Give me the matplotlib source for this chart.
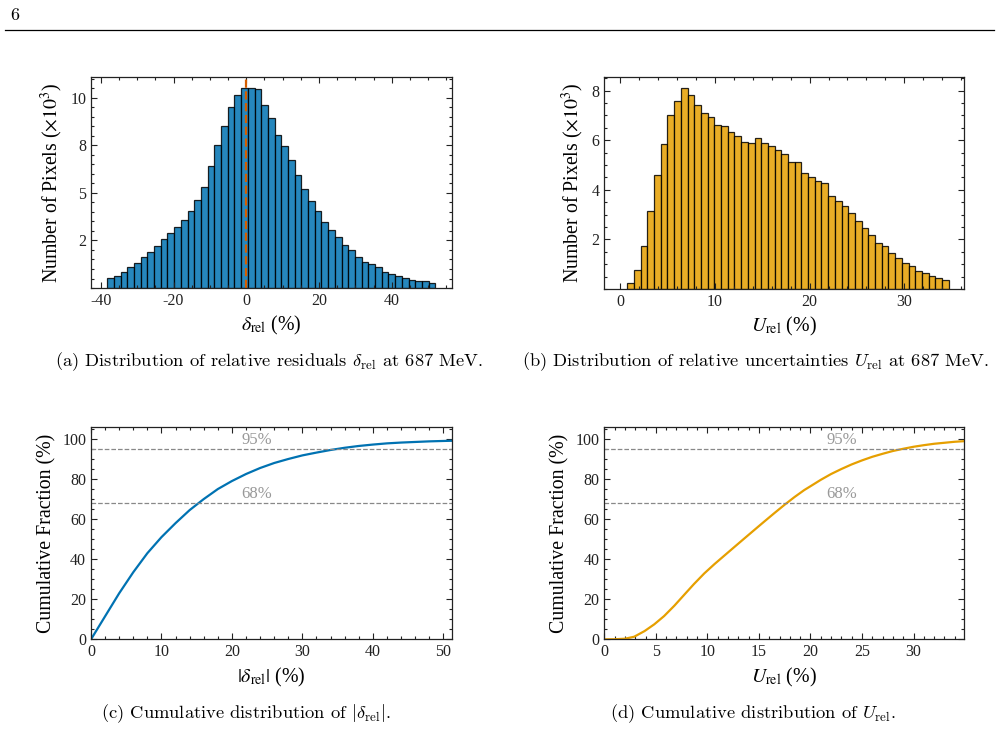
import numpy as np
import matplotlib
matplotlib.use("Agg")
import matplotlib.pyplot as plt
from matplotlib.ticker import MultipleLocator, FormatStrFormatter

plt.rcParams["font.family"] = ["Liberation Serif", "DejaVu Serif"]
plt.rcParams["mathtext.fontset"] = "stix"
plt.rcParams["axes.unicode_minus"] = False
plt.rcParams["axes.linewidth"] = 0.9
plt.rcParams["axes.edgecolor"] = "#222222"

# (a) histogram of relative residuals, counts in thousands
delta_range = (-38.25, 52.0)
delta_counts = [0.52, 0.61, 0.82, 1.10, 1.31, 1.63, 1.89, 2.22, 2.57, 2.88,
                3.22, 3.57, 4.06, 4.62, 5.28, 6.43, 7.52, 8.50, 9.53, 10.12,
                10.49, 10.49, 10.44, 9.60, 8.92, 8.02, 7.47, 6.71, 5.96, 5.19,
                4.55, 4.06, 3.48, 3.04, 2.67, 2.26, 1.99, 1.64, 1.38, 1.26,
                1.08, 0.86, 0.73, 0.63, 0.54, 0.44, 0.37, 0.35, 0.26]

# (b) histogram of relative uncertainties, counts in thousands
u_range = (0.77, 34.68)
u_counts = [0.22, 0.75, 1.72, 3.15, 4.61, 5.86, 7.01, 7.60, 8.11, 7.82,
            7.42, 7.10, 6.95, 6.62, 6.59, 6.33, 6.16, 5.92, 5.88, 6.09,
            5.88, 5.77, 5.61, 5.43, 5.14, 5.14, 4.67, 4.53, 4.36, 4.26,
            3.75, 3.56, 3.36, 3.08, 2.72, 2.45, 2.19, 1.84, 1.73, 1.46,
            1.26, 1.06, 0.91, 0.74, 0.66, 0.51, 0.43, 0.37]

# (c) cumulative fraction of |delta_rel|
abs_delta_x = [0, 2, 4, 6, 8, 10, 12, 14, 16, 18, 20, 22, 24, 26, 28, 30,
               32, 34, 36, 38, 40, 42, 44, 46, 48, 50, 51.2]
abs_delta_cdf = [0, 11.5, 23, 33.5, 43, 51, 58, 64.5, 70, 75, 79, 82.5, 85.5,
                 88, 90, 91.8, 93.2, 94.5, 95.6, 96.5, 97.2, 97.8, 98.2, 98.5,
                 98.8, 99.0, 99.1]

# (d) cumulative fraction of U_rel
u_x = [0, 1, 2, 2.9, 3.9, 4.85, 5.8, 6.8, 7.8, 8.7, 9.7, 10.7, 11.65, 12.6,
       13.6, 14.56, 15.5, 16.5, 17.5, 18.45, 19.4, 20, 21, 22, 23, 24, 25,
       26, 27, 28, 29, 30, 31, 32, 33, 34, 34.9]
u_cdf = [0, 0.05, 0.3, 1.3, 4.1, 7.5, 11.6, 16.8, 22.5, 27.6, 32.9, 37.6,
         41.8, 46.0, 50.4, 54.6, 58.7, 63.0, 67.2, 71.0, 74.5, 76.4, 79.6,
         82.5, 85.0, 87.3, 89.3, 91.1, 92.6, 94.0, 95.1, 96.1, 96.9, 97.6,
         98.1, 98.6, 98.9]

ref_levels = [95, 68]

blue = "#0072B2"
orange = "#E69F00"

fig = plt.figure(figsize=(9.99, 7.29), dpi=100)

# page header
fig.text(0.010, 0.979, "6", fontsize=13, family="cmr10", va="center")
fig.add_artist(plt.Line2D([0.005, 0.995], [0.9585, 0.9585], color="black", lw=0.9))


def style_axes(ax):
    ax.tick_params(which="both", direction="in", top=True, right=True,
                   labelsize=11.5, colors="#222222", width=0.8)
    ax.tick_params(which="major", length=4)
    ax.tick_params(which="minor", length=2)


def histogram(ax, rng, counts, color):
    edges = np.linspace(rng[0], rng[1], len(counts) + 1)
    ax.bar(edges[:-1], counts, width=np.diff(edges), align="edge",
           color=color, alpha=0.85, edgecolor="black", linewidth=0.9)


label_size = 14.3

# (a)
ax1 = fig.add_axes([0.0911, 0.6049, 0.3614, 0.2894])
histogram(ax1, delta_range, delta_counts, blue)
ax1.axvline(0, color="#D55E00", lw=1.6, ls="--")
ax1.set_xlim(-42.7, 56.6)
ax1.set_ylim(0, 11.08)
ax1.xaxis.set_major_locator(MultipleLocator(20))
ax1.xaxis.set_minor_locator(MultipleLocator(5))
ax1.yaxis.set_minor_locator(MultipleLocator(0.5))
ax1.yaxis.set_major_formatter(FormatStrFormatter("%.0f"))
ax1.set_yticks([2.5, 5, 7.5, 10])
ax1.set_xlabel(r"$\delta_{\mathrm{rel}}$ (%)", fontsize=label_size)
ax1.set_ylabel(r"Number of Pixels ($\times10^3$)", fontsize=label_size)
style_axes(ax1)

# (b)
ax2 = fig.add_axes([0.6049, 0.6037, 0.3601, 0.2907])
histogram(ax2, u_range, u_counts, orange)
ax2.set_xlim(-1.66, 36.3)
ax2.set_ylim(0, 8.55)
ax2.xaxis.set_major_locator(MultipleLocator(10))
ax2.xaxis.set_minor_locator(MultipleLocator(2))
ax2.set_yticks([2, 4, 6, 8])
ax2.yaxis.set_minor_locator(MultipleLocator(0.5))
ax2.set_xlabel(r"$U_{\mathrm{rel}}$ (%)", fontsize=label_size)
ax2.set_ylabel(r"Number of Pixels ($\times10^3$)", fontsize=label_size)
style_axes(ax2)

# (c)
ax3 = fig.add_axes([0.0911, 0.1230, 0.3611, 0.2908])
ax3.plot(abs_delta_x, abs_delta_cdf, color=blue, lw=1.6)
for lev in ref_levels:
    ax3.axhline(lev, color="#888888", lw=0.9, ls="--")
    ax3.text(23.5, lev + 0.6, f"{lev}%", color="#999999", fontsize=12,
             ha="center", va="bottom")
ax3.set_xlim(0, 51.2)
ax3.set_ylim(0, 105.8)
ax3.xaxis.set_major_locator(MultipleLocator(10))
ax3.xaxis.set_minor_locator(MultipleLocator(2))
ax3.yaxis.set_major_locator(MultipleLocator(20))
ax3.yaxis.set_minor_locator(MultipleLocator(5))
ax3.set_xlabel(r"$|\delta_{\mathrm{rel}}|$ (%)", fontsize=label_size)
ax3.set_ylabel("Cumulative Fraction (%)", fontsize=label_size)
style_axes(ax3)

# (d)
ax4 = fig.add_axes([0.6049, 0.1230, 0.3601, 0.2908])
ax4.plot(u_x, u_cdf, color=orange, lw=1.6)
for lev in ref_levels:
    ax4.axhline(lev, color="#888888", lw=0.9, ls="--")
    ax4.text(23.0, lev + 0.6, f"{lev}%", color="#999999", fontsize=12,
             ha="center", va="bottom")
ax4.set_xlim(0, 34.9)
ax4.set_ylim(0, 105.8)
ax4.xaxis.set_major_locator(MultipleLocator(5))
ax4.xaxis.set_minor_locator(MultipleLocator(1))
ax4.yaxis.set_major_locator(MultipleLocator(20))
ax4.yaxis.set_minor_locator(MultipleLocator(5))
ax4.set_xlabel(r"$U_{\mathrm{rel}}$ (%)", fontsize=label_size)
ax4.set_ylabel("Cumulative Fraction (%)", fontsize=label_size)
style_axes(ax4)

# sub-captions
cap = dict(fontsize=13.3, family="cmr10", math_fontfamily="cm",
           ha="center", va="center")
fig.text(0.269, 1 - 362 / 729,
         r"(a) Distribution of relative residuals $\delta_{\rm rel}$ at 687 MeV.", **cap)
fig.text(0.756, 1 - 362 / 729,
         r"(b) Distribution of relative uncertainties $U_{\rm rel}$ at 687 MeV.", **cap)
fig.text(0.246, 1 - 714 / 729,
         r"(c) Cumulative distribution of $|\delta_{\rm rel}|$.", **cap)
fig.text(0.754, 1 - 714 / 729,
         r"(d) Cumulative distribution of $U_{\rm rel}$.", **cap)

fig.savefig("out.png", dpi=100)
